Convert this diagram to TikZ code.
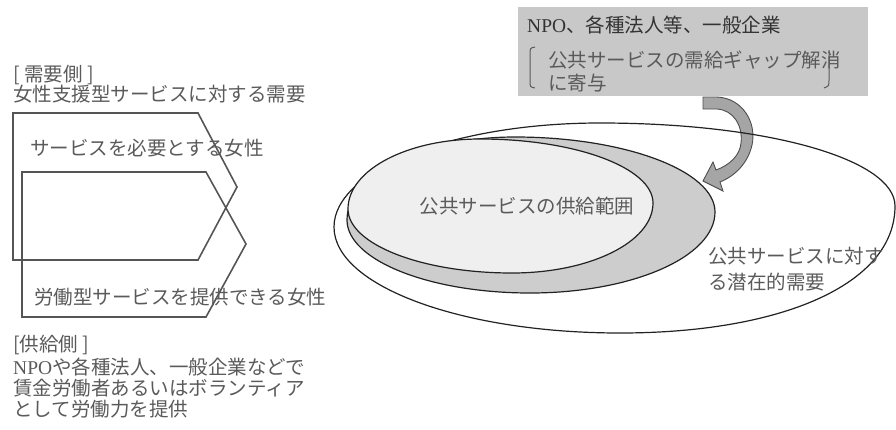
\documentclass[tikz,border=0pt]{standalone}
\usepackage{fontspec}
\setmainfont{Liberation Serif}
\newfontfamily\cjk{Noto Sans CJK JP}
\definecolor{txtgray}{HTML}{5A5A5A}
\definecolor{txtdark}{HTML}{333333}
\definecolor{pentcol}{HTML}{555555}
\definecolor{ellcol}{HTML}{222222}
\definecolor{boxgray}{HTML}{C8C8C8}
\definecolor{midgray}{HTML}{CDCDCD}
\definecolor{lightgray}{HTML}{EFEFEF}
\definecolor{arrowgray}{HTML}{A5A5A5}
\tikzset{
  lbl/.style={anchor=west, inner sep=0pt, text=txtgray, font=\cjk\fontsize{19.5}{22}\selectfont},
  lbldark/.style={lbl, text=txtdark},
  pent/.style={draw=pentcol, line width=1.6pt, line join=miter},
  ell/.style={draw=ellcol, line width=1.2pt},
  brk/.style={draw=txtgray, line width=1pt},
}
\begin{document}
\begin{tikzpicture}[x=1pt,y=-1pt]
\useasboundingbox (0,0) rectangle (896,429);
% left pentagons
\draw[pent] (13,113) -- (198,113) -- (237,187) -- (198,260) -- (13,260) -- cycle;
\draw[pent] (22,172) -- (206,172) -- (246,244) -- (206,317) -- (22,317) -- cycle;
% grey box
\fill[boxgray] (518,7) rectangle (868,96);
\draw[brk] (535,47) .. controls (530,48) .. (530,55) -- (530,80) .. controls (530,87) .. (535,88);
\draw[brk] (829,50) -- (829,80) .. controls (829,86) .. (824,88);
% curved arrow
\draw[fill=arrowgray, draw=ellcol!80, line width=0.9pt, line join=miter]
  (703,97) -- (717,97) .. controls (742,98) and (757,122) .. (752,145)
  .. controls (748,163) and (735,176) .. (720,182) -- (723,191) -- (703,181) -- (713,162) -- (716,170)
  .. controls (730,165) and (740,155) .. (741,143)
  .. controls (743,125) and (733,110) .. (717,109) -- (703,109) -- cycle;
% outer ellipse
\draw[ell] (334,227) .. controls (334,170) and (453,123) .. (600,123)
  .. controls (770,123) and (895,160) .. (895,206)
  .. controls (895,285) and (780,333) .. (620,333)
  .. controls (462,333) and (334,286) .. (334,227) -- cycle;
% grey ellipse
\draw[ell, fill=midgray] (347,220) .. controls (347,174) and (422,137) .. (515,137)
  .. controls (625,137) and (715,171) .. (715,212)
  .. controls (715,257) and (632,293) .. (530,293)
  .. controls (429,293) and (347,260) .. (347,220) -- cycle;
% inner ellipse
\draw[ell, fill=lightgray] (348,209) .. controls (348,170) and (407,139) .. (480,139)
  .. controls (576,139) and (653,168) .. (653,203)
  .. controls (653,242) and (590,273) .. (512,273)
  .. controls (421,273) and (348,244) .. (348,209) -- cycle;
% left texts
\node[lbl] (dtitle) at (13,75) {[ 需要側 ]};
\node[lbl] (dline) at (13,94) {女性支援型サービスに対する需要};
\node[lbl] (need) at (30,148) {サービスを必要とする女性};
\node[lbl] (prov) at (34,297) {労働型サービスを提供できる女性};
\node[lbl] (stitle) at (13,345) {[供給側 ]};
\node[lbl] (s1) at (13,367) {{\rmfamily NPO}や各種法人、一般企業などで};
\node[lbl] (s2) at (13,388) {賃金労働者あるいはボランティア};
\node[lbl] (s3) at (13,409) {として労働力を提供};
% right texts
\node[lbldark] (btitle) at (527,25) {{\rmfamily NPO}、各種法人等、一般企業};
\node[lbl] (b1) at (548,60) {公共サービスの需給ギャップ解消};
\node[lbl] (b2) at (548,83) {に寄与};
\node[lbl, anchor=center] (supply) at (527,206) {公共サービスの供給範囲};
\node[lbl] (pot1) at (708,256) {公共サービスに対す};
\node[lbl] (pot2) at (708,282) {る潜在的需要};
\end{tikzpicture}
\end{document}
